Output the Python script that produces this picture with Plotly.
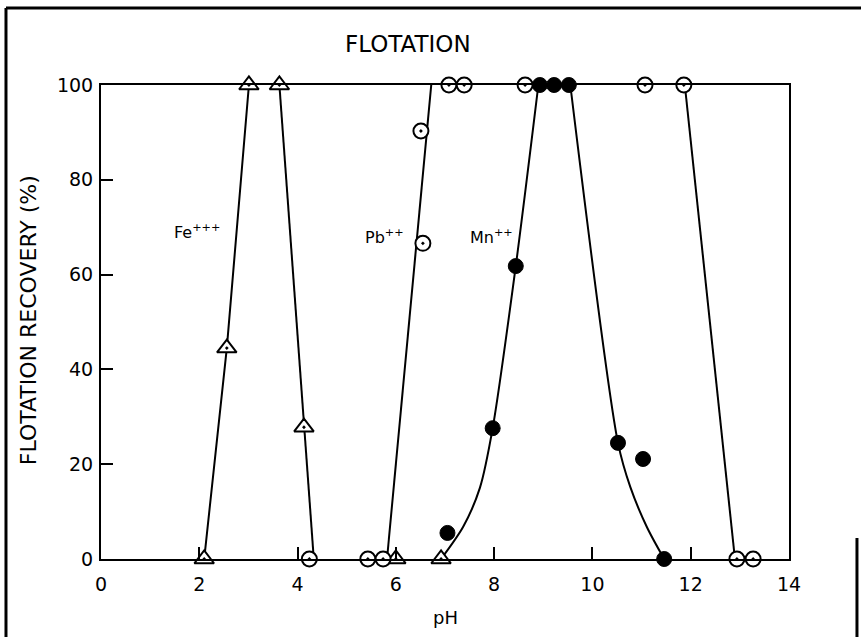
import plotly.graph_objects as go

# ---- data ----
# Fe+++ (open triangles)
fe_x = [2.10, 2.56, 3.01, 3.63, 4.13, 6.00, 6.92]
fe_y = [0, 44.5, 100, 100, 27.8, 0, 0]
# Pb++ (open circles with dot)
pb_x = [4.24, 5.43, 5.74, 6.55, 6.51, 7.08, 7.39, 8.63, 11.07, 11.86, 12.94, 13.27]
pb_y = [0, 0, 0, 66.6, 90.3, 100, 100, 100, 100, 100, 0, 0]
# Mn++ (filled circles)
mn_x = [7.05, 7.97, 8.44, 8.93, 9.22, 9.52, 10.52, 11.03, 11.46]
mn_y = [5.5, 27.6, 61.8, 100, 100, 100, 24.5, 21.1, 0]

# hand-drawn curves through the data
fe_curve_x = [2.10, 2.56, 3.01, None, 3.63, 4.13, 4.33]
fe_curve_y = [0, 44.5, 100, None, 100, 27.8, 0]
pb_curve_x = [5.82, 6.72, None, 11.88, 12.90]
pb_curve_y = [0, 100, None, 100, 0]
mn_rise_x = [6.92, 7.37, 7.71, 7.97, 8.44, 8.90]
mn_rise_y = [0, 6.8, 15.0, 27.6, 61.8, 100]
mn_fall_x = [9.55, 10.52, 10.77, 11.11, 11.46]
mn_fall_y = [100, 24.5, 15.2, 6.7, 0]

x_ticks = [0, 2, 4, 6, 8, 10, 12, 14]
y_ticks = [0, 20, 40, 60, 80, 100]

FONT = "DejaVu Sans"
LW = 2

fig = go.Figure()
for cx, cy, shape in [(fe_curve_x, fe_curve_y, "linear"),
                      (pb_curve_x, pb_curve_y, "linear"),
                      (mn_rise_x, mn_rise_y, "spline"),
                      (mn_fall_x, mn_fall_y, "spline")]:
    fig.add_trace(go.Scatter(x=cx, y=cy, mode="lines",
                             line=dict(color="black", width=LW, shape=shape, smoothing=0.8),
                             showlegend=False, hoverinfo="skip", cliponaxis=False))

fig.add_trace(go.Scatter(x=fe_x, y=fe_y, mode="markers", name="Fe+++",
                         marker=dict(symbol="triangle-up-dot", size=17, color="white",
                                     line=dict(color="black", width=2)),
                         showlegend=False, cliponaxis=False))
fig.add_trace(go.Scatter(x=pb_x, y=pb_y, mode="markers", name="Pb++",
                         marker=dict(symbol="circle-dot", size=15, color="white",
                                     line=dict(color="black", width=2)),
                         showlegend=False, cliponaxis=False))
fig.add_trace(go.Scatter(x=mn_x, y=mn_y, mode="markers", name="Mn++",
                         marker=dict(symbol="circle", size=15, color="black",
                                     line=dict(color="black", width=1)),
                         showlegend=False, cliponaxis=False))

axis_common = dict(showline=True, linecolor="black", linewidth=LW, mirror=True,
                   showgrid=False, zeroline=False, ticks="inside", ticklen=12,
                   tickwidth=LW, tickcolor="black",
                   tickfont=dict(family=FONT, size=19, color="black"))

fig.update_xaxes(range=[0, 14], tickvals=x_ticks, ticktext=[str(v) for v in x_ticks],
                 ticklabelstandoff=7, **axis_common)
fig.update_yaxes(range=[0, 100], tickvals=y_ticks, ticktext=[str(v) for v in y_ticks],
                 ticklabelstandoff=2, **axis_common)

annotations = [
    dict(text="FLOTATION", x=0.446, y=1.0865, xref="paper", yref="paper",
         xanchor="center", yanchor="middle",
         showarrow=False, font=dict(family=FONT, size=23, color="black")),
    dict(text="FLOTATION RECOVERY (%)", x=-0.106, y=0.504, xref="paper", yref="paper",
         xanchor="center", yanchor="middle",
         textangle=-90, showarrow=False, font=dict(family=FONT, size=22, color="black")),
    dict(text="pH", x=0.5, y=-0.124, xref="paper", yref="paper",
         xanchor="center", yanchor="middle",
         showarrow=False, font=dict(family=FONT, size=18, color="black")),
    dict(text="Fe<sup>+++</sup>", x=1.95, y=69, xref="x", yref="y",
         xanchor="center", yanchor="middle",
         showarrow=False, font=dict(family=FONT, size=16, color="black")),
    dict(text="Pb<sup>++</sup>", x=5.76, y=68, xref="x", yref="y",
         xanchor="center", yanchor="middle",
         showarrow=False, font=dict(family=FONT, size=16, color="black")),
    dict(text="Mn<sup>++</sup>", x=7.94, y=68, xref="x", yref="y",
         xanchor="center", yanchor="middle",
         showarrow=False, font=dict(family=FONT, size=16, color="black")),
]

shapes = [
    dict(type="line", xref="paper", yref="paper", x0=-0.1381, x1=-0.1381, y0=1.1624, y1=-0.17,
         line=dict(color="black", width=3)),
    dict(type="line", xref="paper", yref="paper", x0=-0.1381, x1=1.11, y0=1.1624, y1=1.1624,
         line=dict(color="black", width=3)),
    dict(type="line", xref="paper", yref="paper", x0=1.0988, x1=1.0988, y0=0.0443, y1=-0.17,
         line=dict(color="black", width=3)),
]

fig.update_layout(width=861, height=637,
                  margin=dict(l=101, r=72, t=85, b=78),
                  paper_bgcolor="white", plot_bgcolor="white",
                  annotations=annotations, shapes=shapes, showlegend=False)

fig.write_html("out.html")
